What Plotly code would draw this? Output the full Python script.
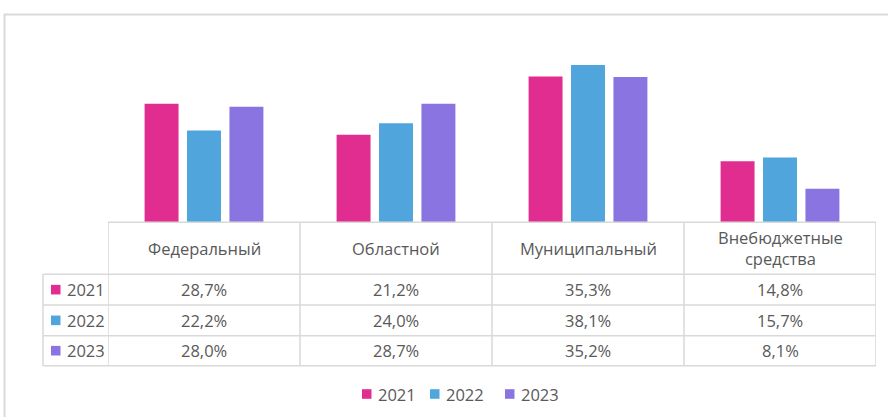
import plotly.graph_objects as go

categories = ["Федеральный", "Областной", "Муниципальный", "Внебюджетные средства"]
years = ["2021", "2022", "2023"]
v2021 = [28.7, 21.2, 35.3, 14.8]
v2022 = [22.2, 24.0, 38.1, 15.7]
v2023 = [28.0, 28.7, 35.2, 8.1]
colors = ["#E22D90", "#50A6DC", "#8A74E1"]

series = [v2021, v2022, v2023]
W, H = 888, 417
FONT = "Open Sans"
TXT = "#595959"
GRID = "#D9D9D9"


def px(x):
    return x / W


def py(y):
    return 1 - y / H


fig = go.Figure()
for name, vals, col in zip(years, series, colors):
    fig.add_trace(go.Bar(x=list(range(len(categories))), y=vals, name=name,
                         marker=dict(color=col, line=dict(width=0)),
                         showlegend=False, hoverinfo="y"))

base_y = 222.3
top_y = 36.4
shapes = []
ann = []

# outer frame
shapes.append(dict(type="rect", xref="paper", yref="paper", x0=px(4.5), x1=px(900), y0=py(14.5), y1=py(430),
                   line=dict(color=GRID, width=2), fillcolor="rgba(0,0,0,0)", layer="below"))

row_lines = [274.3, 305.0, 335.7, 365.7]
# axis / header top line
shapes.append(dict(type="line", xref="paper", yref="paper", x0=px(108), x1=px(876), y0=py(base_y), y1=py(base_y),
                   line=dict(color=GRID, width=1.5)))
for yy in row_lines:
    shapes.append(dict(type="line", xref="paper", yref="paper", x0=px(43), x1=px(876), y0=py(yy), y1=py(yy),
                       line=dict(color=GRID, width=1.5)))
# vertical column lines
for i in range(len(categories) + 1):
    shapes.append(dict(type="line", xref="x", yref="paper", x0=i - 0.5, x1=i - 0.5, y0=py(base_y), y1=py(365.7),
                       line=dict(color=GRID, width=1.5)))
shapes.append(dict(type="line", xref="paper", yref="paper", x0=px(43), x1=px(43), y0=py(274.3), y1=py(365.7),
                   line=dict(color=GRID, width=1.5)))

# header texts
for i, c in enumerate(categories):
    ann.append(dict(x=i, y=py(248.5), xref="x", yref="paper", text=c.replace(" ", "<br>"), showarrow=False,
                    font=dict(family=FONT, size=16.5, color=TXT), xanchor="center", yanchor="middle"))

row_centers = [(274.3 + 305.0) / 2, (305.0 + 335.7) / 2, (335.7 + 365.7) / 2]
for r, (name, vals, col) in enumerate(zip(years, series, colors)):
    yc = row_centers[r]
    shapes.append(dict(type="rect", xref="paper", yref="paper", x0=px(51), x1=px(60.5), y0=py(yc - 4.8), y1=py(yc + 4.8),
                       line=dict(width=0), fillcolor=col))
    ann.append(dict(x=px(64.5), y=py(yc), xref="paper", yref="paper", text=name, showarrow=False,
                    font=dict(family=FONT, size=16.5, color=TXT), xanchor="left", yanchor="middle"))
    for i, v in enumerate(vals):
        ann.append(dict(x=i, y=py(yc), xref="x", yref="paper", text=f"{v:.1f}%".replace(".", ","), showarrow=False,
                        font=dict(family=FONT, size=16.5, color=TXT), xanchor="center", yanchor="middle"))

# legend
leg_x = [362, 430, 505]
leg_y = 394
for name, col, lx in zip(years, colors, leg_x):
    shapes.append(dict(type="rect", xref="paper", yref="paper", x0=px(lx), x1=px(lx + 9.5), y0=py(leg_y - 4.8),
                       y1=py(leg_y + 4.8), line=dict(width=0), fillcolor=col))
    ann.append(dict(x=px(lx + 14), y=py(leg_y), xref="paper", yref="paper", text=name, showarrow=False,
                    font=dict(family=FONT, size=16.5, color=TXT), xanchor="left", yanchor="middle"))

fig.update_layout(
    width=W, height=H,
    margin=dict(l=0, r=0, t=0, b=0),
    paper_bgcolor="white", plot_bgcolor="white",
    barmode="group", bargap=0.337, bargroupgap=0.2,
    xaxis=dict(domain=[px(108), px(876)], range=[-0.5, len(categories) - 0.5], showticklabels=False,
               showgrid=False, zeroline=False, showline=False, ticks=""),
    yaxis=dict(domain=[py(base_y), py(top_y)], range=[0, 45], showticklabels=False, showgrid=False,
               zeroline=False, showline=False, ticks=""),
    shapes=shapes, annotations=ann,
    font=dict(family=FONT, color=TXT),
)

fig.write_html("out.html", config={"displayModeBar": False},
               post_script="document.body.style.margin='0';document.body.style.overflow='hidden';")
